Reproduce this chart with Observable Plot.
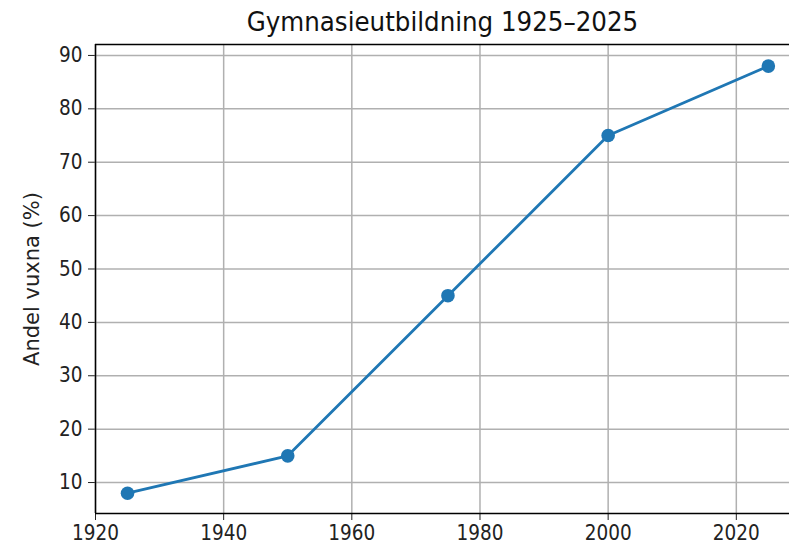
<!DOCTYPE html>
<html>
<head>
<meta charset="utf-8">
<script src="https://cdn.jsdelivr.net/npm/d3@7"></script>
<script src="https://cdn.jsdelivr.net/npm/@observablehq/plot@0.6"></script>
<style>
  html, body { margin: 0; padding: 0; background: #fff; }
  svg { display: block; }
  svg text { font-stretch: condensed; }
  svg g[aria-label="y-axis label"] text, svg g[aria-label="y-axis label"] {
    font-family: 'DejaVu Sans', sans-serif; font-stretch: normal; font-size: 21px;
  }
</style>
</head>
<body>
<div id="chart"></div>
<script>
const years = [1925, 1950, 1975, 2000, 2025];
const shares = [8, 15, 45, 75, 88];
const xTicks = [1920, 1940, 1960, 1980, 2000, 2020];
const yTicks = [10, 20, 30, 40, 50, 60, 70, 80, 90];
const title = "Gymnasieutbildning 1925–2025";
const yLabel = "Andel vuxna (%)";

const data = years.map((year, i) => ({year, share: shares[i]}));
const xDomain = [1920, 2028.3];
const yDomain = [4.2, 92.05];
const blue = "#1f77b4";

const chart = Plot.plot({
  width: 789,
  height: 546,
  marginLeft: 95,
  marginRight: 0,
  marginTop: 44,
  marginBottom: 33,
  style: {fontFamily: "'DejaVu Sans Condensed', 'DejaVu Sans', sans-serif", fontSize: "20.5px", color: "#222", background: "#fff"},
  x: {domain: xDomain, ticks: xTicks, tickFormat: d => String(d), tickSize: 7, tickPadding: 5, label: null},
  y: {domain: yDomain, ticks: yTicks, tickSize: 7, tickPadding: 6, label: yLabel, labelAnchor: "center", labelArrow: "none", labelOffset: 71},
  marks: [
    Plot.ruleX(xTicks, {stroke: "#b0b0b0", strokeWidth: 1.5}),
    Plot.ruleY(yTicks, {stroke: "#b0b0b0", strokeWidth: 1.5}),
    Plot.ruleY([yDomain[0]], {stroke: "#000", strokeWidth: 1.5}),
    Plot.ruleY([yDomain[1]], {stroke: "#000", strokeWidth: 1.5}),
    Plot.ruleX([xDomain[0]], {stroke: "#000", strokeWidth: 1.5}),
    Plot.line(data, {x: "year", y: "share", stroke: blue, strokeWidth: 2.8}),
    Plot.dot(data, {x: "year", y: "share", fill: blue, r: 6.8, stroke: "none"}),
    Plot.text([title], {frameAnchor: "top", dy: -22, fontSize: 27.3, fill: "#111", lineAnchor: "middle"})
  ]
});
document.getElementById("chart").appendChild(chart);
</script>
</body>
</html>
